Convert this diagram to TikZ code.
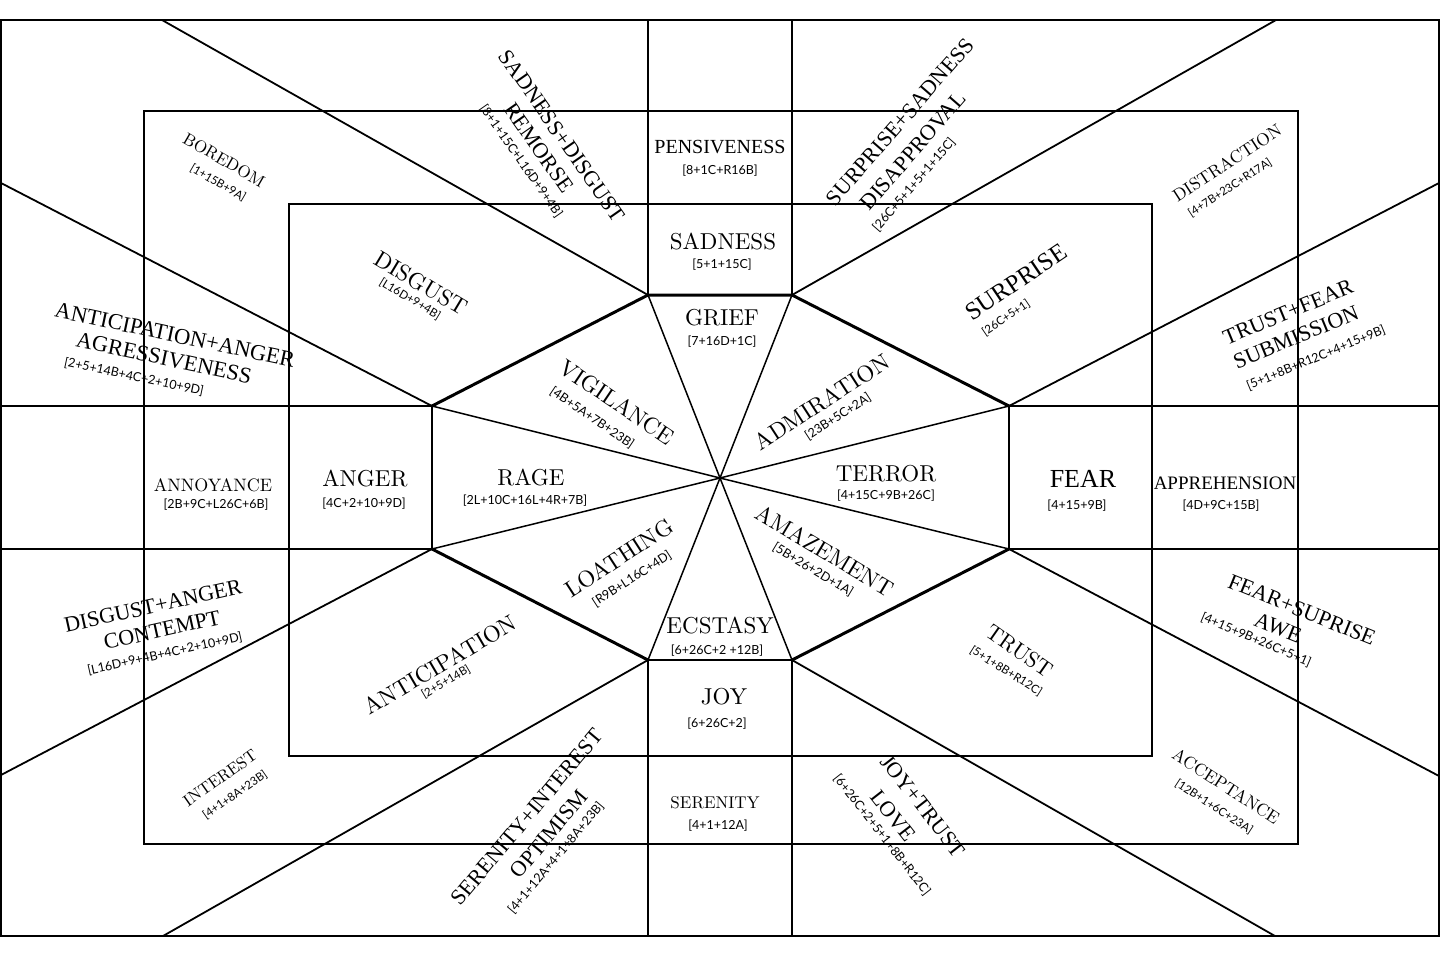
\documentclass[tikz,border=0pt]{standalone}
\usepackage{fontspec}
\setmainfont{lmroman10-regular}[Extension=.otf]
\newfontfamily\tms{Liberation Serif}
\newfontfamily\gill{Lato}
\begin{document}
\begin{tikzpicture}[x=1pt,y=-1pt,
  ln/.style={line width=1.8pt},
  octedge/.style={line width=3pt,line cap=round},
  spoke/.style={line width=1.5pt},
  gw/.style={inner sep=0pt,font=\fontsize{23}{23}\selectfont},
  gm/.style={inner sep=0pt,font=\fontsize{17.5}{18}\selectfont},
  tw/.style={inner sep=0pt,font=\tms\fontsize{22}{22}\selectfont},
  br/.style={inner sep=0pt,font=\gill\fontsize{12.5}{12.5}\selectfont},
  bs/.style={inner sep=0pt,font=\gill\fontsize{11.5}{11.5}\selectfont}]
\useasboundingbox (0,0) rectangle (1440,956);
\fill[white] (0,0) rectangle (1440,956);
% coordinates
\coordinate (C) at (720,478);
\coordinate (o1) at (648,295);
\coordinate (o2) at (792,295);
\coordinate (o3) at (1009,406);
\coordinate (o4) at (1009,549);
\coordinate (o5) at (792,660);
\coordinate (o6) at (648,660);
\coordinate (o7) at (432,549);
\coordinate (o8) at (432,406);
\coordinate (t1) at (648,20);
\coordinate (t2) at (792,20);
\coordinate (b1) at (648,936);
\coordinate (b2) at (792,936);
\coordinate (l1) at (1,406);
\coordinate (l2) at (1,549);
\coordinate (r1) at (1439,406);
\coordinate (r2) at (1439,549);
\coordinate (d1) at (162,20);
\coordinate (d2) at (1276,20);
\coordinate (d3) at (1439,183);
\coordinate (d4) at (1439,776);
\coordinate (d5) at (1275,936);
\coordinate (d6) at (163,936);
\coordinate (d7) at (1,775);
\coordinate (d8) at (1,183);
\coordinate (oa) at (1,20);
\coordinate (ob) at (1439,936);
\coordinate (ma) at (144,111);
\coordinate (mb) at (1298,844);
\coordinate (ia) at (289,204);
\coordinate (ib) at (1152,756);
% rectangles
\draw[ln] (oa) rectangle (ob);
\draw[ln] (ma) rectangle (mb);
\draw[ln] (ia) rectangle (ib);
% straight lines
\draw[ln] (t1) -- (o1);
\draw[ln] (t2) -- (o2);
\draw[ln] (b1) -- (o6);
\draw[ln] (b2) -- (o5);
\draw[ln] (l1) -- (o8);
\draw[ln] (l2) -- (o7);
\draw[ln] (r1) -- (o3);
\draw[ln] (r2) -- (o4);
% diagonals
\draw[ln] (o1) -- (d1);
\draw[ln] (o2) -- (d2);
\draw[ln] (o3) -- (d3);
\draw[ln] (o4) -- (d4);
\draw[ln] (o5) -- (d5);
\draw[ln] (o6) -- (d6);
\draw[ln] (o7) -- (d7);
\draw[ln] (o8) -- (d8);
% spokes
\foreach \v in {o1,o2,o3,o4,o5,o6,o7,o8} \draw[spoke] (C) -- (\v);
% octagon
\draw[octedge] (o8) -- (o1) -- (o2) -- (o3);
\draw[octedge] (o4) -- (o5);
\draw[octedge] (o6) -- (o7);
\draw[line width=2.3pt] (o5) -- (o6);
\draw[ln] (o3) -- (o4);
\draw[ln] (o7) -- (o8);
% ---- labels ----
% top
\node[tw,rotate=-55] (sd1) at (562,136) {SADNESS+DISGUST};
\node[tw,rotate=-55] (sd2) at (539,148) {REMORSE};
\node[br,rotate=-55] (sd3) at (521,161) {[8+1+15C+L16D+9+4B]};
\node[tw,font=\tms\fontsize{20}{20}\selectfont] (pen) at (720,147) {PENSIVENESS};
\node[br] (pen2) at (720,171) {[8+1C+R16B]};
\node[tw,rotate=49] (ss1) at (900,122) {SURPRISE+SADNESS};
\node[tw,rotate=49] (ss2) at (913,151) {DISAPPROVAL};
\node[br,rotate=49] (ss3) at (914,185) {[26C+5+1+5+1+15C]};
\node[gm,font=\fontsize{17}{17}\selectfont,rotate=-30] (bor) at (224,160) {BOREDOM};
\node[bs,rotate=-30] (bor2) at (218,183) {[1+15B+9A]};
\node[gm,rotate=33] (dis) at (1227,163) {DISTRACTION};
\node[bs,rotate=33] (dis2) at (1230,188) {[4+7B+23C+R17A]};
\node[gw] (sad) at (723,242) {SADNESS};
\node[br] (sad2) at (722,265) {[5+1+15C]};
\node[gw,rotate=-31] (dsg) at (421,283) {DISGUST};
\node[bs,rotate=-31] (dsg2) at (410,299) {[L16D+9+4B]};
\node[tw,font=\tms\fontsize{25}{25}\selectfont,rotate=34] (sur) at (1016,282) {SURPRISE};
\node[bs,rotate=34] (sur2) at (1006,318) {[26C+5+1]};
% left / right combos
\node[tw,font=\tms\fontsize{22.5}{22.5}\selectfont,rotate=-12] (aa1) at (175,335) {ANTICIPATION+ANGER};
\node[tw,font=\tms\fontsize{22.5}{22.5}\selectfont,rotate=-12] (aa2) at (164,358) {AGRESSIVENESS};
\node[br,rotate=-12] (aa3) at (134,377) {[2+5+14B+4C+2+10+9D]};
\node[tw,rotate=22.5] (tf1) at (1288,312) {TRUST+FEAR};
\node[tw,rotate=22.5] (tf2) at (1296,337) {SUBMISSION};
\node[br,rotate=22.5] (tf3) at (1316,358) {[5+1+8B+R12C+4+15+9B]};
\node[tw,rotate=12.5] (da1) at (153,606) {DISGUST+ANGER};
\node[tw,rotate=12.5] (da2) at (162,630) {CONTEMPT};
\node[br,rotate=12.5] (da3) at (165,654) {[L16D+9+4B+4C+2+10+9D]};
\node[tw,rotate=-22] (fs1) at (1302,610) {FEAR+SUPRISE};
\node[tw,rotate=-22] (fs2) at (1278,628) {AWE};
\node[br,rotate=-23] (fs3) at (1256,640) {[4+15+9B+26C+5+1]};
% middle row
\node[gm,font=\fontsize{18}{18}\selectfont] (ann) at (213,485) {ANNOYANCE};
\node[br] (ann2) at (216,505) {[2B+9C+L26C+6B]};
\node[gw] (ang) at (365,479) {ANGER};
\node[br] (ang2) at (364,504) {[4C+2+10+9D]};
\node[gw] (rag) at (531,478) {RAGE};
\node[br] (rag2) at (525,501) {[2L+10C+16L+4R+7B]};
\node[gw] (ter) at (886,474) {TERROR};
\node[br] (ter2) at (886,496) {[4+15C+9B+26C]};
\node[tw,font=\tms\fontsize{26}{26}\selectfont] (fea) at (1083,479) {FEAR};
\node[br] (fea2) at (1077,506) {[4+15+9B]};
\node[tw,font=\tms\fontsize{19}{19}\selectfont] (app) at (1225,483) {APPREHENSION};
\node[br] (app2) at (1221,506) {[4D+9C+15B]};
% inner wedges
\node[gw] (gri) at (722,318) {GRIEF};
\node[br] (gri2) at (722,342) {[7+16D+1C]};
\node[gw,rotate=-34] (vig) at (617,402) {VIGILANCE};
\node[br,rotate=-34] (vig2) at (592,418) {[4B+5A+7B+23B]};
\node[gw,rotate=33] (adm) at (822,402) {ADMIRATION};
\node[br,rotate=33] (adm2) at (838,417) {[23B+5C+2A]};
\node[gw,rotate=33] (loa) at (619,558) {LOATHING};
\node[br,rotate=33] (loa2) at (632,579) {[R9B+L16C+4D]};
\node[gw,rotate=-31] (ama) at (825,551) {AMAZEMENT};
\node[br,rotate=-31] (ama2) at (813,570) {[5B+26+2D+1A]};
\node[gw] (ecs) at (720,626) {ECSTASY};
\node[br] (ecs2) at (717,651) {[6+26C+2 +12B]};
% lower area
\node[gw,rotate=30.5] (ant) at (440,665) {ANTICIPATION};
\node[bs,rotate=30.5] (ant2) at (446,682) {[2+5+14B]};
\node[gw,font=\fontsize{22}{22}\selectfont,rotate=-35] (tru) at (1020,651) {TRUST};
\node[bs,rotate=-32] (tru2) at (1006,671) {[5+1+8B+R12C]};
\node[gw] (joy) at (724,697) {JOY};
\node[br] (joy2) at (717,724) {[6+26C+2]};
\node[gm,font=\fontsize{17}{17}\selectfont] (ser) at (715,803) {SERENITY};
\node[br] (ser2) at (718,826) {[4+1+12A]};
\node[gm,font=\fontsize{16.5}{17}\selectfont,rotate=35] (int) at (220,778) {INTEREST};
\node[bs,rotate=35] (int2) at (235,795) {[4+1+8A+23B]};
\node[gm,font=\fontsize{17.5}{18}\selectfont,rotate=-33] (acc) at (1226,786) {ACCEPTANCE};
\node[bs,rotate=-33] (acc2) at (1214,807) {[12B+1+6C+23A]};
% bottom combos
\node[tw,rotate=50] (si1) at (527,817) {SERENITY+INTEREST};
\node[tw,rotate=50] (si2) at (549,834) {OPTIMISM};
\node[br,rotate=50] (si3) at (556,858) {[4+1+12A+4+1+8A+23B]};
\node[tw,rotate=-52] (jt1) at (923,806) {JOY+TRUST};
\node[tw,rotate=-52] (jt2) at (893,816) {LOVE};
\node[br,rotate=-52] (jt3) at (882,835) {[6+26C+2+5+1+8B+R12C]};
\end{tikzpicture}
\end{document}
